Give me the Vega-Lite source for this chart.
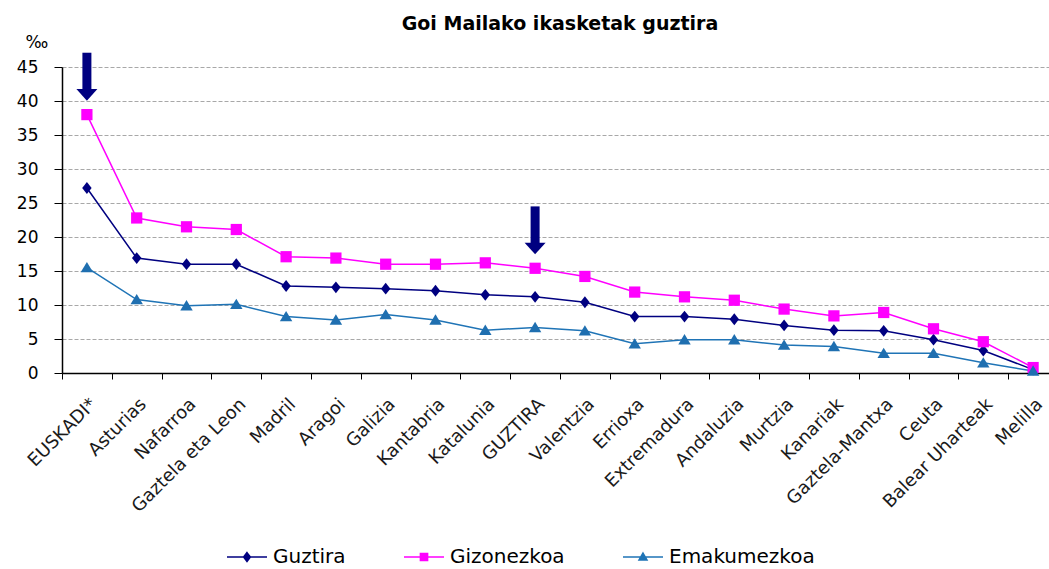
{
  "$schema": "https://vega.github.io/schema/vega-lite/v6.json",
  "autosize": {"type": "none"},
  "width": 996,
  "height": 306,
  "padding": {"left": 62, "top": 67, "right": 0, "bottom": 196},
  "background": "white",
  "config": {
    "font": "DejaVu Sans",
    "view": {"stroke": null},
    "axisY": {
      "values": [0, 5, 10, 15, 20, 25, 30, 35, 40, 45],
      "labelFontSize": 17,
      "labelFont": "DejaVu Sans",
      "labelColor": "#000000",
      "labelPadding": 16,
      "labelOverlap": false,
      "tickColor": "#000000",
      "tickSize": 8,
      "domainColor": "#000000",
      "domainWidth": 1.5,
      "grid": true,
      "gridColor": "#a8a8a8",
      "gridDash": [4, 2],
      "gridWidth": 1
    }
  },
  "title": {
    "text": "Goi Mailako ikasketak  guztira",
    "fontSize": 19,
    "fontWeight": "bold",
    "font": "DejaVu Sans",
    "color": "#000000",
    "offset": 5,
    "dy": 6,
    "anchor": "middle"
  },
  "datasets": {
    "series": [
      {"region": "EUSKADI*", "series": "Guztira", "value": 27.2},
      {"region": "EUSKADI*", "series": "Gizonezkoa", "value": 38.0},
      {"region": "EUSKADI*", "series": "Emakumezkoa", "value": 15.5},
      {"region": "Asturias", "series": "Guztira", "value": 16.9},
      {"region": "Asturias", "series": "Gizonezkoa", "value": 22.8},
      {"region": "Asturias", "series": "Emakumezkoa", "value": 10.8},
      {"region": "Nafarroa", "series": "Guztira", "value": 16.0},
      {"region": "Nafarroa", "series": "Gizonezkoa", "value": 21.5},
      {"region": "Nafarroa", "series": "Emakumezkoa", "value": 9.9},
      {"region": "Gaztela eta Leon", "series": "Guztira", "value": 16.0},
      {"region": "Gaztela eta Leon", "series": "Gizonezkoa", "value": 21.1},
      {"region": "Gaztela eta Leon", "series": "Emakumezkoa", "value": 10.1},
      {"region": "Madril", "series": "Guztira", "value": 12.8},
      {"region": "Madril", "series": "Gizonezkoa", "value": 17.1},
      {"region": "Madril", "series": "Emakumezkoa", "value": 8.3},
      {"region": "Aragoi", "series": "Guztira", "value": 12.6},
      {"region": "Aragoi", "series": "Gizonezkoa", "value": 16.9},
      {"region": "Aragoi", "series": "Emakumezkoa", "value": 7.8},
      {"region": "Galizia", "series": "Guztira", "value": 12.4},
      {"region": "Galizia", "series": "Gizonezkoa", "value": 16.0},
      {"region": "Galizia", "series": "Emakumezkoa", "value": 8.6},
      {"region": "Kantabria", "series": "Guztira", "value": 12.1},
      {"region": "Kantabria", "series": "Gizonezkoa", "value": 16.0},
      {"region": "Kantabria", "series": "Emakumezkoa", "value": 7.8},
      {"region": "Katalunia", "series": "Guztira", "value": 11.5},
      {"region": "Katalunia", "series": "Gizonezkoa", "value": 16.2},
      {"region": "Katalunia", "series": "Emakumezkoa", "value": 6.3},
      {"region": "GUZTIRA", "series": "Guztira", "value": 11.2},
      {"region": "GUZTIRA", "series": "Gizonezkoa", "value": 15.4},
      {"region": "GUZTIRA", "series": "Emakumezkoa", "value": 6.7},
      {"region": "Valentzia", "series": "Guztira", "value": 10.4},
      {"region": "Valentzia", "series": "Gizonezkoa", "value": 14.2},
      {"region": "Valentzia", "series": "Emakumezkoa", "value": 6.2},
      {"region": "Errioxa", "series": "Guztira", "value": 8.3},
      {"region": "Errioxa", "series": "Gizonezkoa", "value": 11.9},
      {"region": "Errioxa", "series": "Emakumezkoa", "value": 4.3},
      {"region": "Extremadura", "series": "Guztira", "value": 8.3},
      {"region": "Extremadura", "series": "Gizonezkoa", "value": 11.2},
      {"region": "Extremadura", "series": "Emakumezkoa", "value": 4.9},
      {"region": "Andaluzia", "series": "Guztira", "value": 7.9},
      {"region": "Andaluzia", "series": "Gizonezkoa", "value": 10.7},
      {"region": "Andaluzia", "series": "Emakumezkoa", "value": 4.9},
      {"region": "Murtzia", "series": "Guztira", "value": 7.0},
      {"region": "Murtzia", "series": "Gizonezkoa", "value": 9.4},
      {"region": "Murtzia", "series": "Emakumezkoa", "value": 4.1},
      {"region": "Kanariak", "series": "Guztira", "value": 6.3},
      {"region": "Kanariak", "series": "Gizonezkoa", "value": 8.4},
      {"region": "Kanariak", "series": "Emakumezkoa", "value": 3.9},
      {"region": "Gaztela-Mantxa", "series": "Guztira", "value": 6.2},
      {"region": "Gaztela-Mantxa", "series": "Gizonezkoa", "value": 8.9},
      {"region": "Gaztela-Mantxa", "series": "Emakumezkoa", "value": 2.9},
      {"region": "Ceuta", "series": "Guztira", "value": 4.9},
      {"region": "Ceuta", "series": "Gizonezkoa", "value": 6.5},
      {"region": "Ceuta", "series": "Emakumezkoa", "value": 2.9},
      {"region": "Balear Uharteak", "series": "Guztira", "value": 3.3},
      {"region": "Balear Uharteak", "series": "Gizonezkoa", "value": 4.6},
      {"region": "Balear Uharteak", "series": "Emakumezkoa", "value": 1.5},
      {"region": "Melilla", "series": "Guztira", "value": 0.5},
      {"region": "Melilla", "series": "Gizonezkoa", "value": 0.8},
      {"region": "Melilla", "series": "Emakumezkoa", "value": 0.3}
    ],
    "arrows": [
      {"region": "EUSKADI*", "top": 47.1, "base": 41.6, "head": 40.9},
      {"region": "GUZTIRA", "top": 24.5, "base": 19.0, "head": 18.3}
    ]
  },
  "encoding": {
    "x": {
      "field": "region",
      "type": "nominal",
      "sort": null,
      "scale": {"type": "band", "paddingInner": 0, "paddingOuter": 0},
      "axis": {
        "title": null,
        "labelAngle": -45,
        "labelAlign": "right",
        "labelBaseline": "top",
        "labelFont": "DejaVu Sans",
        "labelFontSize": 18,
        "labelColor": "#1a1a1a",
        "labelPadding": 16,
        "labelOverlap": false,
        "tickBand": "extent",
        "tickColor": "#000000",
        "tickSize": 6,
        "domainColor": "#000000",
        "domainWidth": 1.5,
        "grid": false
      }
    },
    "y": {
      "field": "value",
      "type": "quantitative",
      "scale": {"domain": [0, 45], "nice": false},
      "axis": {
        "title": "‰",
        "titleAngle": 0,
        "titleAlign": "left",
        "titleBaseline": "bottom",
        "titleX": -37,
        "titleY": -16,
        "titleFont": "DejaVu Sans",
        "titleFontSize": 17,
        "titleFontWeight": "normal",
        "titleColor": "#000000"
      }
    }
  },
  "layer": [
    {
      "data": {"name": "series"},
      "mark": {"type": "line", "strokeWidth": 1.5},
      "encoding": {
        "x": {"field": "region", "type": "nominal", "sort": null, "bandPosition": 0.5},
        "color": {
          "field": "series",
          "type": "nominal",
          "scale": {"domain": ["Guztira", "Gizonezkoa", "Emakumezkoa"], "range": ["#000080", "#ff00ff", "#1f74b6"]},
          "legend": {
            "orient": "none",
            "legendX": 164,
            "legendY": 469,
            "direction": "horizontal",
            "title": null,
            "symbolSize": 1600,
            "labelFont": "DejaVu Sans",
            "labelFontSize": 20,
            "labelColor": "#000000",
            "labelOffset": 5,
            "columnPadding": 55,
            "encode": {
              "symbols": {
                "update": {
                  "shape": {"signal": "datum.value === 'Guztira' ? 'M-1,0L1,0M0,-0.22L0.17,0L0,0.22L-0.17,0Z' : (datum.value === 'Gizonezkoa' ? 'M-1,0L1,0M-0.18,-0.18L0.18,-0.18L0.18,0.18L-0.18,0.18Z' : 'M-1,0L1,0M0,-0.2L0.2,0.15L-0.2,0.15Z')"},
                  "stroke": {"signal": "scale('color', datum.value)"},
                  "fill": {"signal": "scale('color', datum.value)"},
                  "strokeWidth": {"value": 1.5},
                  "opacity": {"value": 1}
                }
              }
            }
          }
        },
        "detail": {"field": "series"}
      }
    },
    {
      "data": {"name": "series"},
      "transform": [{"filter": "datum.series === 'Guztira'"}],
      "mark": {"type": "point", "filled": true, "opacity": 1, "size": 140, "color": "#000080", "shape": "M0,-1L0.8,0L0,1L-0.8,0Z"},
      "encoding": {
        "x": {"field": "region", "type": "nominal", "sort": null, "bandPosition": 0.5}
      }
    },
    {
      "data": {"name": "series"},
      "transform": [{"filter": "datum.series === 'Gizonezkoa'"}],
      "mark": {"type": "point", "filled": true, "opacity": 1, "size": 140, "color": "#ff00ff", "shape": "M-0.95,-0.95L0.95,-0.95L0.95,0.95L-0.95,0.95Z"},
      "encoding": {
        "x": {"field": "region", "type": "nominal", "sort": null, "bandPosition": 0.5}
      }
    },
    {
      "data": {"name": "series"},
      "transform": [{"filter": "datum.series === 'Emakumezkoa'"}],
      "mark": {"type": "point", "filled": true, "opacity": 1, "size": 140, "color": "#1f6fb0", "shape": "M0,-0.95L1.05,0.8L-1.05,0.8Z"},
      "encoding": {
        "x": {"field": "region", "type": "nominal", "sort": null, "bandPosition": 0.5}
      }
    },
    {
      "data": {"name": "arrows"},
      "mark": {"type": "bar", "color": "#000080", "size": 9},
      "encoding": {
        "y": {"field": "top", "type": "quantitative"},
        "y2": {"field": "base"}
      }
    },
    {
      "data": {"name": "arrows"},
      "mark": {"type": "point", "filled": true, "opacity": 1, "color": "#000080", "size": 441, "shape": "M-1,-0.55L1,-0.55L0,0.55Z"},
      "encoding": {
        "x": {"field": "region", "type": "nominal", "sort": null, "bandPosition": 0.5},
        "y": {"field": "head", "type": "quantitative"}
      }
    }
  ]
}
